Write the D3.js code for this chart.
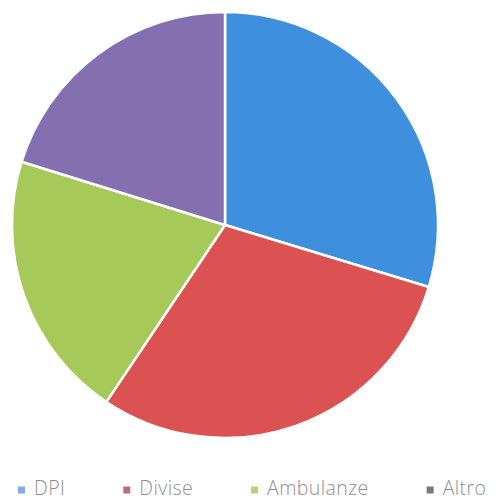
<!DOCTYPE html>
<html><head><meta charset="utf-8">
<script src="https://cdn.jsdelivr.net/npm/d3@7"></script>
<style>html,body{margin:0;padding:0;background:#fff;}</style>
</head><body>
<svg id="chart" width="496" height="499"></svg>
<script>
const categories = ["DPI", "Divise", "Ambulanze", "Altro"];
const values = [29.7, 29.7, 20.4, 20.2];
const sliceColors = ["#3f8fdf", "#dc5252", "#a6c95a", "#8470b0"];
const legendColors = ["#7aaee8", "#c06a80", "#b7d27a", "#7a7a7a"];

const svg = d3.select("#chart");
const cx = 225, cy = 225, r = 213;
const pie = d3.pie().sort(null).value(d => d)(values);
const arc = d3.arc().innerRadius(0).outerRadius(r);
const g = svg.append("g").attr("transform", `translate(${cx},${cy})`);
g.selectAll("path").data(pie).join("path")
  .attr("d", arc)
  .attr("fill", (d, i) => sliceColors[i])
  .attr("stroke", "#fff")
  .attr("stroke-width", 2.5)
  .attr("stroke-linejoin", "round");

const lg = svg.append("g").selectAll("g").data(categories).join("g");
lg.append("rect").attr("x", 0).attr("y", -3.5).attr("width", 7).attr("height", 7)
  .attr("fill", (d, i) => legendColors[i]);
lg.append("text").attr("x", 16).attr("y", 4.5)
  .attr("font-family", "'Open Sans', sans-serif").attr("font-size", 19.5)
  .attr("font-weight", 300).attr("letter-spacing", 0.4)
  .attr("fill", "#8f8f8f").text(d => d);
let xPos = 18;
lg.each(function() {
  const gg = d3.select(this);
  gg.attr("transform", `translate(${xPos},490)`);
  const w = gg.select("text").node().getComputedTextLength();
  xPos += 16 + w + 58;
});
</script>
</body></html>
